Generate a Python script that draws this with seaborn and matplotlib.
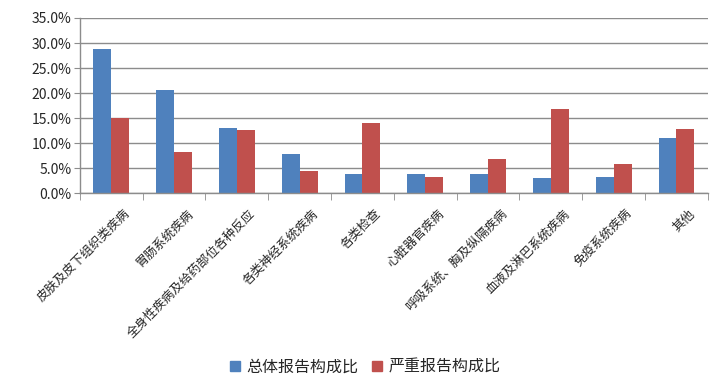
import numpy as np
import pandas as pd
import seaborn as sns
import matplotlib.pyplot as plt
import matplotlib.transforms as mtransforms
from matplotlib.ticker import PercentFormatter, FixedLocator

# data
categories = ['皮肤及皮下组织类疾病', '胃肠系统疾病', '全身性疾病及给药部位各种反应', '各类神经系统疾病',
              '各类检查', '心脏器官疾病', '呼吸系统、胸及纵隔疾病', '血液及淋巴系统疾病',
              '免疫系统疾病', '其他']
overall = [28.8, 20.7, 13.1, 7.9, 3.9, 3.8, 3.8, 3.0, 3.3, 11.0]
serious = [15.1, 8.2, 12.6, 4.4, 14.1, 3.3, 6.8, 16.9, 5.8, 12.8]
series_names = ['总体报告构成比', '严重报告构成比']

df = pd.DataFrame({
    'category': categories * 2,
    'value': overall + serious,
    'series': [series_names[0]] * len(categories) + [series_names[1]] * len(categories),
})

sns.set_style("white")
plt.rcParams['font.family'] = ['Noto Sans CJK SC', 'DejaVu Sans']

fig = plt.figure(figsize=(7.26, 3.91), dpi=100)
ax = fig.add_axes([0.110, 0.506, 0.865, 0.448])

sns.barplot(data=df, x='category', y='value', hue='series',
            palette=['#4F81BD', '#C0504D'], width=0.57, gap=0, ax=ax,
            edgecolor='none', saturation=1)

ax.set_ylim(0, 35)
ax.set_xlim(-0.5, len(categories) - 0.5)
ax.set_yticks(np.arange(0, 36, 5))
ax.yaxis.set_major_formatter(PercentFormatter(decimals=1))
ax.grid(axis='y', color='#8C8C8C', linewidth=1)
ax.set_axisbelow(True)

for s in ['top', 'right']:
    ax.spines[s].set_visible(False)
for s in ['left', 'bottom']:
    ax.spines[s].set_color('#8C8C8C')
    ax.spines[s].set_linewidth(1)

ax.set_xlabel('')
ax.set_ylabel('')
ax.tick_params(axis='y', length=4, color='#8C8C8C', labelsize=10, pad=2, left=True)
ax.tick_params(axis='x', which='major', length=0, labelsize=9, pad=10)
ax.xaxis.set_minor_locator(FixedLocator(np.arange(-0.5, len(categories), 1)))
ax.tick_params(axis='x', which='minor', length=5, color='#8C8C8C', bottom=True)

# shift the rotated labels a bit to the right, like the original
shift = mtransforms.ScaledTranslation(12 / 100, 0, fig.dpi_scale_trans)
for lbl in ax.get_xticklabels():
    lbl.set_rotation(45)
    lbl.set_ha('right')
    lbl.set_rotation_mode('anchor')
    lbl.set_transform(lbl.get_transform() + shift)

ax.legend_.remove()
handles = [plt.Line2D([], [], marker='s', linestyle='', color=c, markersize=7.5)
           for c in ['#4F81BD', '#C0504D']]
fig.legend(handles, series_names, loc='center', bbox_to_anchor=(0.5, 0.061), ncol=2,
           frameon=False, fontsize=11.5, handletextpad=0.1, columnspacing=0.6,
           handlelength=1.2)

plt.savefig('out.png', dpi=100)
